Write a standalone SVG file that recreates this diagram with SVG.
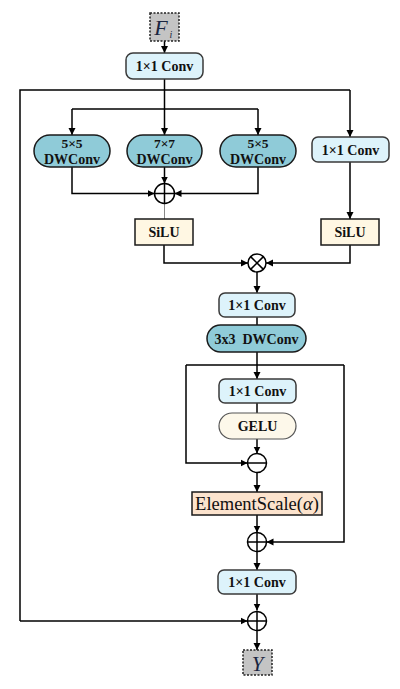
<svg xmlns="http://www.w3.org/2000/svg" width="400" height="689" viewBox="0 0 400 689">
<defs>
<marker id="ah" markerWidth="8" markerHeight="8" refX="7" refY="4" orient="auto" markerUnits="userSpaceOnUse">
<path d="M0,0.5 L7,4 L0,7.5 Z" fill="#000"/>
</marker>
<style>
.ln{fill:none;stroke:#000;stroke-width:1.5}
.ar{fill:none;stroke:#000;stroke-width:1.5;marker-end:url(#ah)}
.conv{fill:#DDF3FB;stroke:#3a3a3a;stroke-width:1.5}
.dw{fill:#8FCBD8;stroke:#1a1a1a;stroke-width:1.5}
.silu{fill:#FFF7E3;stroke:#1a1a1a;stroke-width:1.5}
.gelu{fill:#FDF8EA;stroke:#555;stroke-width:1.2}
.es{fill:#FCE3CD;stroke:#1a1a1a;stroke-width:1.5}
.io{fill:#C4C4C4;stroke:#222;stroke-width:1.5;stroke-dasharray:2,1.5}
.op{fill:#fff;stroke:#000;stroke-width:1.5}
.t{font-family:"Liberation Serif",serif;font-weight:bold;font-size:14px;fill:#111;text-anchor:middle}
.ts{font-family:"Liberation Serif",serif;font-weight:bold;font-size:13.5px;fill:#111;text-anchor:middle}
.tb{font-family:"Liberation Serif",serif;font-weight:bold;font-size:14px;fill:#111;text-anchor:middle}
</style>
</defs>
<g id="connectors">
<path class="ar" d="M164.5,41 V53"/>
<path class="ar" d="M164.5,79 V135"/>
<path class="ln" d="M20,621 V90 H350"/>
<path class="ar" d="M350,90 V137"/>
<path class="ar" d="M72,109 V135"/>
<path class="ln" d="M72,109 H258"/>
<path class="ar" d="M258,109 V135"/>
<path class="ar" d="M164.5,167 V183.5"/>
<path class="ar" d="M72,167 V193.5 H154.5"/>
<path class="ar" d="M258,167 V193.5 H174.5"/>
<path d="M164.5,203.5 V219" fill="none" stroke="#888" stroke-width="1"/>
<path class="ar" d="M350,162 V219"/>
<path class="ar" d="M164,245 V263 H248"/>
<path class="ar" d="M350,245 V263 H266"/>
<path class="ar" d="M257,272 V293"/>
<path class="ln" d="M257,317 V325"/>
<path class="ar" d="M257,352 V379"/>
<path class="ln" d="M186,365 H344"/>
<path class="ar" d="M186,365 V463 H247.5"/>
<path class="ar" d="M344,365 V542 H266.5"/>
<path class="ln" d="M257,403 V413"/>
<path class="ar" d="M257,439 V453.5"/>
<path class="ar" d="M257,472.5 V492"/>
<path class="ar" d="M257,515 V532.5"/>
<path class="ar" d="M257,551.5 V570"/>
<path class="ar" d="M257,594 V610.5"/>
<path class="ar" d="M20,621 H247.5"/>
<path class="ar" d="M257,630.5 V650"/>
</g>
<g id="Fi">
<rect class="io" x="150" y="13" width="29" height="28"/>
<text x="161" y="35" font-family="Liberation Serif,serif" font-style="italic" font-size="22" fill="#1a2540" text-anchor="middle">F</text>
<text x="171" y="38" font-family="Liberation Serif,serif" font-style="italic" font-size="10" fill="#1a2540" text-anchor="middle">i</text>
</g>
<g id="conv1">
<rect class="conv" x="126" y="53" width="77" height="26" rx="7"/>
<text class="t" x="164.5" y="71">1×1 Conv</text>
</g>
<g id="dw5a">
<rect class="dw" x="34" y="135" width="76" height="32" rx="16"/>
<text class="ts" x="72" y="147.5">5×5</text>
<text class="tb" x="72" y="164">DWConv</text>
</g>
<g id="dw7">
<rect class="dw" x="127" y="135" width="75" height="32" rx="16"/>
<text class="ts" x="164.5" y="147.5">7×7</text>
<text class="tb" x="164.5" y="164">DWConv</text>
</g>
<g id="dw5b">
<rect class="dw" x="220" y="135" width="76" height="32" rx="16"/>
<text class="ts" x="258" y="147.5">5×5</text>
<text class="tb" x="258" y="164">DWConv</text>
</g>
<g id="conv2">
<rect class="conv" x="312" y="137" width="77" height="25" rx="6"/>
<text class="t" x="350.5" y="154.5">1×1 Conv</text>
</g>
<g id="add1">
<circle class="op" cx="164.5" cy="193.5" r="10"/>
<path class="ln" d="M154.5,193.5 H174.5 M164.5,183.5 V203.5"/>
</g>
<g id="silu1">
<rect class="silu" x="135" y="219" width="58" height="26"/>
<text class="t" x="164" y="237">SiLU</text>
</g>
<g id="silu2">
<rect class="silu" x="321" y="219" width="58" height="26"/>
<text class="t" x="350" y="237">SiLU</text>
</g>
<g id="mul">
<circle class="op" cx="257" cy="263" r="9"/>
<path class="ln" d="M250.6,256.6 L263.4,269.4 M263.4,256.6 L250.6,269.4"/>
</g>
<g id="conv3">
<rect class="conv" x="219" y="293" width="76" height="24" rx="6"/>
<text class="t" x="257" y="310">1×1 Conv</text>
</g>
<g id="dw3">
<rect class="dw" x="207" y="325" width="99" height="27" rx="13.5"/>
<text class="tb" x="256.5" y="343.5" xml:space="preserve">3x3  DWConv</text>
</g>
<g id="conv4">
<rect class="conv" x="219" y="379" width="77" height="24" rx="6"/>
<text class="t" x="257.5" y="396">1×1 Conv</text>
</g>
<g id="gelu">
<rect class="gelu" x="219" y="413" width="77" height="26" rx="13"/>
<text class="t" x="257.5" y="431">GELU</text>
</g>
<g id="sub">
<circle class="op" cx="257" cy="463" r="9.5"/>
<path class="ln" d="M247.5,463 H266.5"/>
</g>
<g id="es">
<rect class="es" x="192" y="492" width="130" height="23"/>
<text x="257" y="509.5" font-family="Liberation Serif,serif" font-size="18.5" fill="#111" text-anchor="middle">ElementScale(<tspan font-style="italic">α</tspan>)</text>
</g>
<g id="add2">
<circle class="op" cx="257" cy="542" r="9.5"/>
<path class="ln" d="M247.5,542 H266.5 M257,532.5 V551.5"/>
</g>
<g id="conv5">
<rect class="conv" x="218" y="570" width="78" height="24" rx="6"/>
<text class="t" x="257" y="587">1×1 Conv</text>
</g>
<g id="add3">
<circle class="op" cx="257" cy="621" r="9.5"/>
<path class="ln" d="M247.5,621 H266.5 M257,611.5 V630.5"/>
</g>
<g id="Y">
<rect class="io" x="243" y="650" width="29" height="25"/>
<text x="257.5" y="670.5" font-family="Liberation Serif,serif" font-style="italic" font-size="21" fill="#1a2540" text-anchor="middle">Y</text>
</g>
</svg>
